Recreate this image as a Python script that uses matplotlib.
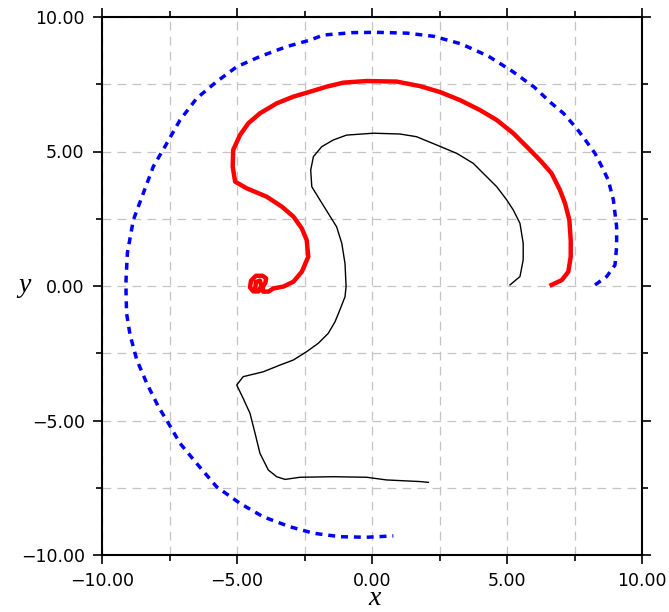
import numpy as np
import matplotlib.pyplot as plt
from matplotlib.ticker import MultipleLocator, FuncFormatter

# curve data
blue_x = [8.26, 8.69, 9.0, 9.06, 9.06, 8.94, 8.75, 8.51, 8.26, 7.95, 7.58, 7.09, 6.65,
          6.0, 5.2, 4.3, 3.3, 2.3, 1.3, 0.17, -0.69, -1.8, -2.3, -3.16, -4.15, -5.01,
          -5.75, -6.49, -7.11, -7.67, -8.1, -8.47, -8.84, -9.06, -9.11, -9.11, -9.09,
          -8.96, -8.71, -8.34, -7.91, -7.54, -7.11, -6.49, -5.75, -4.89, -4.03, -3.04,
          -2.17, -1.19, -0.2, 0.79]
blue_y = [0.04, 0.35, 0.78, 1.46, 2.2, 3.2, 3.94, 4.44, 4.93, 5.36, 5.86, 6.42, 6.79,
          7.4, 7.98, 8.55, 9.0, 9.28, 9.4, 9.43, 9.42, 9.33, 9.14, 8.9, 8.53, 8.15,
          7.6, 6.98, 6.17, 5.18, 4.44, 3.45, 2.45, 1.23, 0.22, -0.21, -1.02,
          -1.82, -2.75, -3.62, -4.49, -5.1, -5.85, -6.6, -7.47, -8.08, -8.58, -8.95,
          -9.19, -9.32, -9.34, -9.29]

red_x = [6.65, 7.03, 7.27, 7.36, 7.36, 7.31, 7.15, 6.96, 6.65, 6.22, 5.73, 5.23, 4.62,
         4.0, 3.26, 2.52, 1.78, 0.91, -0.2, -1.06, -1.68, -2.3, -2.91, -3.53, -4.15,
         -4.58, -4.89, -5.14, -5.16, -5.07, -4.64, -3.9, -3.34, -2.91, -2.6, -2.42,
         -2.36, -2.6, -2.91, -3.28, -3.65, -3.84, -4.03, -4.05, -3.95, -3.92, -4.05,
         -4.3, -4.48, -4.52, -4.4, -4.2, -4.1, -4.15, -4.3, -4.32]
red_y = [0.04, 0.22, 0.53, 1.09, 1.71, 2.45, 3.07, 3.57, 4.19, 4.68, 5.18, 5.68, 6.17,
         6.54, 6.91, 7.21, 7.43, 7.6, 7.62, 7.56, 7.41, 7.22, 7.04, 6.79, 6.42,
         6.05, 5.61, 5.06, 4.44, 3.88, 3.63, 3.32, 2.95, 2.58, 2.14, 1.71,
         1.09, 0.53, 0.16, -0.02, -0.09, -0.21, -0.21, -0.05, 0.12, 0.28, 0.38,
         0.38, 0.2, -0.05, -0.2, -0.2, 0.0, 0.2, 0.15, -0.05]

black_x = [5.11, 5.48, 5.6, 5.6, 5.48, 5.23, 4.99, 4.62, 4.25, 3.75, 3.14, 2.4, 1.65,
           1.04, 0.05, -0.94, -1.43, -1.86, -2.17, -2.27, -2.23, -1.93, -1.62, -1.31,
           -1.12, -1.0, -0.96, -1.0, -1.19, -1.37, -1.62, -1.99, -2.42, -2.91, -3.41,
           -4.03, -4.77, -5.01, -4.77, -4.52, -4.33, -4.15, -3.84, -3.53, -3.22, -2.67,
           -1.43, -0.2, 0.54, 1.78, 2.09]
black_y = [0.04, 0.35, 0.97, 1.59, 2.33, 2.83, 3.2, 3.69, 4.06, 4.56, 4.93, 5.24, 5.55,
           5.65, 5.68, 5.61, 5.43, 5.18, 4.81, 4.31, 3.69, 3.2, 2.7, 2.2,
           1.59, 0.84, -0.02, -0.4, -0.89, -1.33, -1.76, -2.13, -2.44, -2.75, -2.94,
           -3.19, -3.37, -3.68, -4.18, -4.73, -5.48, -6.22, -6.84, -7.09, -7.19, -7.11,
           -7.09, -7.11, -7.21, -7.27, -7.3]

fig = plt.figure(figsize=(6.69, 6.12), dpi=100)
ax = fig.add_axes([102 / 669, 57 / 612, 540 / 669, 538 / 612])

ax.plot(blue_x, blue_y, color='blue', lw=2.5, linestyle=(0, (2, 1.7)))
ax.plot(red_x, red_y, color='red', lw=3.2)
ax.plot(black_x, black_y, color='black', lw=1.0)

ax.set_xlim(-10, 10)
ax.set_ylim(-10, 10)

fmt = FuncFormatter(lambda v, p: f'{v:.2f}'.replace('-', '\u2212'))
for axis in (ax.xaxis, ax.yaxis):
    axis.set_major_locator(MultipleLocator(5))
    axis.set_minor_locator(MultipleLocator(2.5))
    axis.set_major_formatter(fmt)

ax.grid(True, which='both', color='#c4c4c4', lw=0.9, linestyle=(0, (7, 5)))
ax.set_axisbelow(True)

ax.tick_params(which='both', direction='out', top=True, right=True, width=1.2)
ax.tick_params(which='major', length=6.5, labelsize=12.5, pad=6)
ax.tick_params(which='minor', length=4.5)
for s in ax.spines.values():
    s.set_linewidth(1.5)

fig.text(375 / 669, 1 - 605 / 612, 'x', family='Liberation Serif', style='italic',
         fontsize=20, ha='center', va='baseline')
fig.text(25 / 669, 1 - 292 / 612, 'y', family='Liberation Serif', style='italic',
         fontsize=20, ha='center', va='baseline')

fig.savefig('out.png', dpi=100)
